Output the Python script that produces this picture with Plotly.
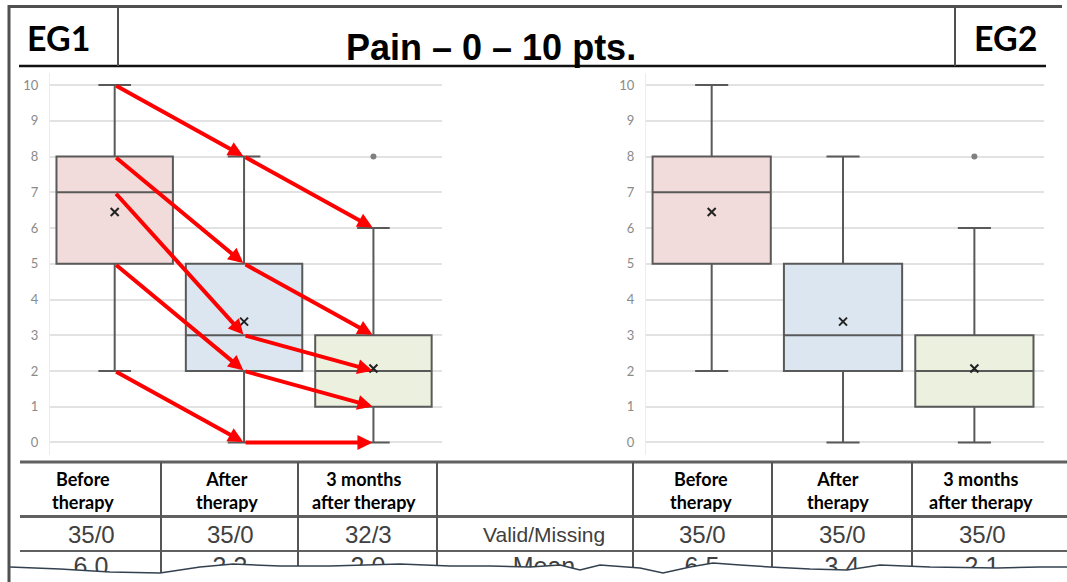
import plotly.graph_objects as go

W, H = 1067, 582

# ---------------- data ----------------
categories = ["Before therapy", "After therapy", "3 months after therapy"]
header_labels = ["<b>Before<br>therapy</b>", "<b>After<br>therapy</b>", "<b>3 months<br>after therapy</b>"]

eg1_low = [2, 0, 0]
eg1_q1 = [5, 2, 1]
eg1_median = [7, 3, 2]
eg1_q3 = [8, 5, 3]
eg1_high = [10, 8, 6]
eg1_mean = [6.45, 3.38, 2.07]
eg1_outlier_cat = [2]
eg1_outlier_val = [8]

eg2_low = [2, 0, 0]
eg2_q1 = [5, 2, 1]
eg2_median = [7, 3, 2]
eg2_q3 = [8, 5, 3]
eg2_high = [10, 8, 6]
eg2_mean = [6.45, 3.38, 2.07]
eg2_outlier_cat = [2]
eg2_outlier_val = [8]

# red arrows on EG1: (from category, from value, to category, to value)
eg1_arrow_from_cat = [0, 1, 0, 1, 0, 1, 0, 1, 0, 1]
eg1_arrow_from_val = [10, 8, 8, 5, 7, 3, 5, 2, 2, 0]
eg1_arrow_to_cat = [1, 2, 1, 2, 1, 2, 1, 2, 1, 2]
eg1_arrow_to_val = [8, 6, 5, 3, 3, 2, 2, 1, 0, 0]

eg1_valid_missing = ["35/0", "35/0", "32/3"]
eg2_valid_missing = ["35/0", "35/0", "35/0"]
eg1_mean_row = ["6.0", "3.3", "2.0"]
eg2_mean_row = ["6.5", "3.4", "2.1"]
row_names = ["Valid/Missing", "Mean"]

y_ticks = list(range(0, 11))

box_fills = ["rgb(242,220,219)", "rgb(220,230,241)", "rgb(235,241,222)"]
box_line = "#595959"


def px(x):
    return x / W


def py(y):
    return 1 - y / H


fig = go.Figure()


def add_panel(xa, ya, low, q1, med, q3, high, mean, oc, ov):
    for i in range(3):
        fig.add_trace(go.Box(
            x=[i], q1=[q1[i]], median=[med[i]], q3=[q3[i]],
            lowerfence=[low[i]], upperfence=[high[i]],
            width=0.9, whiskerwidth=0.28, boxpoints=False,
            fillcolor=box_fills[i], line=dict(color=box_line, width=2),
            xaxis=xa, yaxis=ya, showlegend=False, hoverinfo="skip"))
    fig.add_trace(go.Scatter(
        x=[0, 1, 2], y=mean, mode="markers",
        marker=dict(symbol="x-thin", size=8, line=dict(color="#222222", width=2)),
        xaxis=xa, yaxis=ya, showlegend=False, cliponaxis=False))
    fig.add_trace(go.Scatter(
        x=oc, y=ov, mode="markers",
        marker=dict(symbol="circle", size=6, color="#808080"),
        xaxis=xa, yaxis=ya, showlegend=False))


add_panel("x", "y", eg1_low, eg1_q1, eg1_median, eg1_q3, eg1_high, eg1_mean,
          eg1_outlier_cat, eg1_outlier_val)
add_panel("x2", "y2", eg2_low, eg2_q1, eg2_median, eg2_q3, eg2_high, eg2_mean,
          eg2_outlier_cat, eg2_outlier_val)

# cut-off "Mean" row as scatter text (so it can be covered by the torn edge)
row_x_left = [91, 230, 368]
row_x_right = [702, 842, 982]
fig.add_trace(go.Scatter(
    x=row_x_left + [544] + row_x_right,
    y=[569] * 7,
    text=eg1_mean_row + [row_names[1]] + eg2_mean_row,
    mode="text",
    textfont=dict(family="Liberation Sans Narrow, Arial Narrow, Liberation Sans, sans-serif",
                  size=25, color="#404040"),
    xaxis="x3", yaxis="y3", showlegend=False, hoverinfo="skip"))

yax = dict(range=[-0.35, 10.35], tickvals=y_ticks, showgrid=True,
           gridcolor="#e2e2e2", gridwidth=2, zeroline=False,
           showline=True, linecolor="#ececec", linewidth=1,
           ticks="", ticklabelstandoff=8,
           tickfont=dict(family="Lato, sans-serif", size=13, color="#8a8a8a"),
           domain=[py(455), py(72.5)], fixedrange=True)
xax = dict(range=[-0.5, 2.53], showgrid=False, zeroline=False, showticklabels=False,
           ticks="", fixedrange=True)

fig.update_layout(
    width=W, height=H, margin=dict(l=0, r=0, t=0, b=0),
    paper_bgcolor="white", plot_bgcolor="rgba(0,0,0,0)",
    boxmode="overlay", showlegend=False,
    xaxis=dict(xax, domain=[px(50), px(442)]),
    yaxis=dict(yax, anchor="x"),
    xaxis2=dict(xax, domain=[px(646), px(1044)]),
    yaxis2=dict(yax, anchor="x2"),
    xaxis3=dict(domain=[0, 1], range=[0, W], visible=False, fixedrange=True),
    yaxis3=dict(domain=[0, 1], range=[H, 0], visible=False, fixedrange=True, anchor="x3"),
)

annotations = []
# arrows
for fc, fv, tc, tv in zip(eg1_arrow_from_cat, eg1_arrow_from_val, eg1_arrow_to_cat, eg1_arrow_to_val):
    annotations.append(dict(
        x=tc, y=tv, ax=fc, ay=fv, xref="x", yref="y", axref="x", ayref="y",
        showarrow=True, arrowhead=2, arrowsize=0.75, arrowwidth=4,
        arrowcolor="#ff0000", standoff=1, text=""))

# header
annotations.append(dict(text="<b>Pain – 0 – 10 pts.</b>", x=px(491), y=py(47), xref="paper", yref="paper",
                        showarrow=False, xanchor="center", yanchor="middle",
                        font=dict(family="Liberation Sans, Arial, sans-serif", size=36, color="black")))
annotations.append(dict(text="<b>EG1</b>", x=px(58), y=py(37), xref="paper", yref="paper",
                        showarrow=False, xanchor="center", yanchor="middle",
                        font=dict(family="Lato, sans-serif", size=34, color="black")))
annotations.append(dict(text="<b>EG2</b>", x=px(1005), y=py(37), xref="paper", yref="paper",
                        showarrow=False, xanchor="center", yanchor="middle",
                        font=dict(family="Lato, sans-serif", size=34, color="black")))

# table header and valid/missing row
hdr_x_left = [83, 227, 364]
hdr_x_right = [701, 838, 981]
for xs in (hdr_x_left, hdr_x_right):
    for xv, lab in zip(xs, header_labels):
        annotations.append(dict(text=lab, x=px(xv), y=py(490), xref="paper", yref="paper",
                                showarrow=False, xanchor="center", yanchor="middle",
                                font=dict(family="Lato, sans-serif", size=18, color="black")))
vm_font = dict(family="Liberation Sans Narrow, Arial Narrow, Liberation Sans, sans-serif",
               size=24, color="#404040")
for xv, lab in zip(row_x_left, eg1_valid_missing):
    annotations.append(dict(text=lab, x=px(xv), y=py(534), xref="paper", yref="paper",
                            showarrow=False, xanchor="center", yanchor="middle", font=vm_font))
for xv, lab in zip(row_x_right, eg2_valid_missing):
    annotations.append(dict(text=lab, x=px(xv), y=py(534), xref="paper", yref="paper",
                            showarrow=False, xanchor="center", yanchor="middle", font=vm_font))
annotations.append(dict(text=row_names[0], x=px(544), y=py(534), xref="paper", yref="paper",
                        showarrow=False, xanchor="center", yanchor="middle",
                        font=dict(vm_font, size=21)))
fig.update_layout(annotations=annotations)

shapes = []


def line(x0, y0, x1, y1, color, width):
    shapes.append(dict(type="line", xref="paper", yref="paper",
                       x0=px(x0), y0=py(y0), x1=px(x1), y1=py(y1),
                       line=dict(color=color, width=width), layer="above"))


# header frame
line(8, 6.5, 1062, 6.5, "#505050", 3)
line(19, 66, 1046, 66, "#111111", 2.5)
line(118, 8, 118, 66, "#505050", 2)
line(955, 8, 955, 66, "#505050", 2)
# table lines
line(20, 462, W, 462, "#606060", 3)
line(20, 516.5, W, 516.5, "#606060", 3)
line(20, 551, W, 551, "#606060", 2)
for xv in [161, 298, 437, 633, 772, 912]:
    line(xv, 462, xv, 580, "#555555", 2)

# torn edge
wave = [(10, 567), (60, 569), (110, 572), (160, 573), (200, 567), (233, 564),
        (280, 566), (330, 566), (400, 564), (450, 566), (490, 566), (530, 567),
        (560, 565), (580, 570), (600, 565), (640, 568), (663, 573), (690, 567),
        (713, 563), (740, 565), (770, 567), (810, 569), (847, 570), (880, 565),
        (930, 567), (997, 568), (1040, 567), (W, 567)]
d = "M " + " L ".join(f"{px(x):.5f},{py(y):.5f}" for x, y in wave)
cover = f"M 0,{py(567):.5f} L " + d[2:] + f" L {px(W):.5f},0 L 0,0 Z"
shapes.append(dict(type="path", xref="paper", yref="paper", path=cover,
                   fillcolor="white", line=dict(width=0), layer="above"))
shapes.append(dict(type="path", xref="paper", yref="paper", path=d,
                   line=dict(color="#33414f", width=1.5), layer="above"))
# left outer frame
line(9, 5, 9, H, "#505050", 3)

fig.update_layout(shapes=shapes)

fig.write_html("out.html", config={"displayModeBar": False},
               post_script="document.body.style.margin='0';document.body.style.overflow='hidden';")
